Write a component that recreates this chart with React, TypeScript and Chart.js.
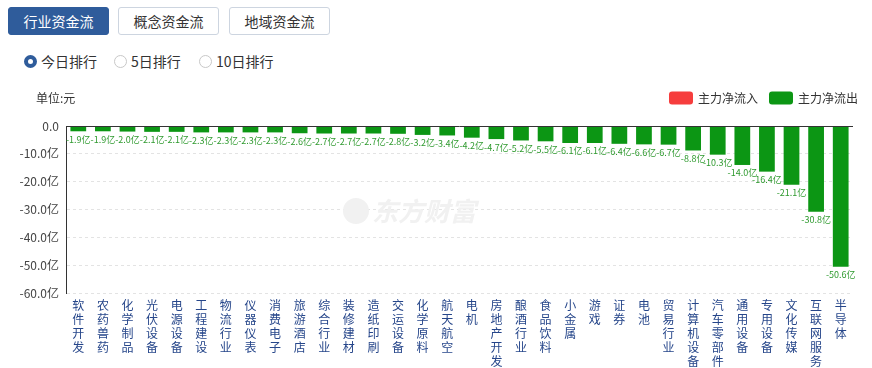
import React, { useEffect, useRef } from "react";
import { Chart, registerables } from "chart.js";

Chart.register(...registerables);

const categories: string[] = [
  "软件开发", "农药兽药", "化学制品", "光伏设备", "电源设备", "工程建设", "物流行业", "仪器仪表",
  "消费电子", "旅游酒店", "综合行业", "装修建材", "造纸印刷", "交运设备", "化学原料", "航天航空",
  "电机", "房地产开发", "酿酒行业", "食品饮料", "小金属", "游戏", "证券", "电池",
  "贸易行业", "计算机设备", "汽车零部件", "通用设备", "专用设备", "文化传媒", "互联网服务", "半导体",
];

const netFlow: number[] = [
  -1.9, -1.9, -2.0, -2.1, -2.1, -2.3, -2.3, -2.3,
  -2.3, -2.6, -2.7, -2.7, -2.7, -2.8, -3.2, -3.4,
  -4.2, -4.7, -5.2, -5.5, -6.1, -6.1, -6.4, -6.6,
  -6.7, -8.8, -10.3, -14.0, -16.4, -21.1, -30.8, -50.6,
];

const yTicks: number[] = [0, -10, -20, -30, -40, -50, -60];
const seriesNames: string[] = ["主力净流入", "主力净流出"];
const seriesColors: string[] = ["#f63d3d", "#0c9614"];
const tabs: string[] = ["行业资金流", "概念资金流", "地域资金流"];
const radios: string[] = ["今日排行", "5日排行", "10日排行"];
const unitLabel = "单位:元";
const watermark = "东方财富";

const FONT = '"Noto Sans CJK SC", "Noto Sans", sans-serif';

const inflow = netFlow.map((v) => (v > 0 ? v : null));
const outflow = netFlow.map((v) => (v < 0 ? v : null));

const fmt = (v: number) => (v === 0 ? "0.0" : v.toFixed(1) + "亿");

const overlayPlugin = {
  id: "overlay",
  beforeDatasetsDraw(chart: any) {
    const { ctx } = chart;
    ctx.save();
    ctx.fillStyle = "#f1f1f1";
    ctx.font = `italic bold 26px ${FONT}`;
    ctx.textAlign = "left";
    ctx.textBaseline = "middle";
    ctx.fillText(watermark, 372, 126);
    ctx.beginPath();
    ctx.arc(356, 126, 13, 0, Math.PI * 2);
    ctx.fill();
    ctx.restore();
  },
  afterDatasetsDraw(chart: any) {
    const { ctx, chartArea, scales } = chart;
    const y0 = scales.y.getPixelForValue(0);
    ctx.save();
    ctx.strokeStyle = "#333";
    ctx.lineWidth = 1;
    ctx.beginPath();
    ctx.moveTo(chartArea.left, Math.round(y0) + 0.5);
    ctx.lineTo(chartArea.right, Math.round(y0) + 0.5);
    ctx.stroke();
    ctx.font = `9px ${FONT}`;
    ctx.textAlign = "center";
    ctx.textBaseline = "middle";
    chart.data.datasets.forEach((ds: any, di: number) => {
      const meta = chart.getDatasetMeta(di);
      meta.data.forEach((el: any, i: number) => {
        const v = ds.data[i];
        if (v == null) return;
        ctx.fillStyle = di === 1 ? "#2f9a2f" : "#e53535";
        const y = v < 0 ? el.y + 8 : el.y - 8;
        ctx.fillText(fmt(v), el.x, y);
      });
    });
    ctx.restore();
  },
  afterDraw(chart: any) {
    const { ctx } = chart;
    ctx.save();
    ctx.font = `12px ${FONT}`;
    ctx.textBaseline = "middle";
    ctx.fillStyle = "#333";
    ctx.textAlign = "left";
    ctx.fillText(unitLabel, 36, 13);
    let x = 858;
    const boxW = 24;
    const boxH = 13;
    for (let i = seriesNames.length - 1; i >= 0; i--) {
      const w = ctx.measureText(seriesNames[i]).width;
      x -= w;
      ctx.fillStyle = "#333";
      ctx.fillText(seriesNames[i], x, 13);
      x -= 5 + boxW;
      ctx.fillStyle = seriesColors[i];
      ctx.beginPath();
      (ctx as any).roundRect(x, 13 - boxH / 2, boxW, boxH, 3);
      ctx.fill();
      x -= 11;
    }
    ctx.restore();
  },
};

function ChartView() {
  const ref = useRef<HTMLCanvasElement | null>(null);
  useEffect(() => {
    if (!ref.current) return;
    Chart.defaults.font.family = FONT;
    const chart = new Chart(ref.current, {
      type: "bar",
      data: {
        labels: categories.map((c) => c.split("")),
        datasets: [
          {
            label: seriesNames[0],
            data: inflow as any,
            backgroundColor: seriesColors[0],
            grouped: false,
            barPercentage: 0.64,
            categoryPercentage: 1,
          },
          {
            label: seriesNames[1],
            data: outflow as any,
            backgroundColor: seriesColors[1],
            grouped: false,
            barPercentage: 0.64,
            categoryPercentage: 1,
          },
        ],
      },
      options: {
        responsive: false,
        animation: false,
        layout: { padding: { top: 41, right: 19, left: 0, bottom: 0 } },
        plugins: { legend: { display: false }, tooltip: { enabled: false } },
        scales: {
          x: {
            grid: { display: false, drawTicks: false },
            border: { display: false },
            ticks: {
              autoSkip: false,
              maxRotation: 0,
              minRotation: 0,
              color: "#26468a",
              font: { size: 12, lineHeight: 14 / 12 },
              padding: 5,
            },
            afterFit(scale: any) {
              scale.height = 75;
            },
          },
          y: {
            min: -60,
            max: 0,
            afterBuildTicks(scale: any) {
              scale.ticks = yTicks.map((v) => ({ value: v }));
            },
            grid: {
              drawTicks: false,
              color: (c: any) => (c.tick && c.tick.value === 0 ? "rgba(0,0,0,0)" : "#e3e3e3"),
            },
            border: { display: true, color: "#333", width: 1, dash: [3, 3] },
            ticks: {
              color: "#444",
              font: { size: 12 },
              padding: 7,
              callback: (v: any) => fmt(Number(v)),
            },
            afterFit(scale: any) {
              scale.width = 66;
            },
          },
        },
      },
      plugins: [overlayPlugin],
    });
    return () => chart.destroy();
  }, []);
  return (
    <canvas
      ref={ref}
      width={872}
      height={283}
      style={{ position: "absolute", left: 0, top: 85, width: 872, height: 283, display: "block" }}
    />
  );
}

export default function App() {
  const tabLefts = [8, 118, 229];
  const radioLefts = [31, 121, 206];
  return (
    <div
      style={{
        position: "fixed",
        left: 0,
        top: 0,
        width: 872,
        height: 368,
        background: "#fff",
        fontFamily: FONT,
        overflow: "hidden",
      }}
    >
      {tabs.map((t, i) => (
        <div
          key={t}
          style={{
            position: "absolute",
            left: tabLefts[i],
            top: 7,
            width: 101,
            height: 28,
            boxSizing: "border-box",
            borderRadius: 3,
            border: i === 0 ? "1px solid #2f5c9b" : "1px solid #cdd5e0",
            background: i === 0 ? "#2f5c9b" : "#fff",
            color: i === 0 ? "#fff" : "#333",
            fontSize: 14,
            lineHeight: "26px",
            textAlign: "center",
          }}
        >
          {t}
        </div>
      ))}
      {radios.map((r, i) => (
        <div
          key={r}
          style={{
            position: "absolute",
            left: radioLefts[i] - 7,
            top: 51,
            height: 20,
            display: "flex",
            alignItems: "center",
            fontSize: 14,
            color: "#333",
          }}
        >
          <span
            style={{
              display: "inline-block",
              width: 13,
              height: 13,
              boxSizing: "border-box",
              borderRadius: "50%",
              border: i === 0 ? "4px solid #2f5c9b" : "1px solid #c8c8c8",
              background: "#fff",
              marginRight: 4,
            }}
          />
          <span>{r}</span>
        </div>
      ))}
      <ChartView />
    </div>
  );
}
